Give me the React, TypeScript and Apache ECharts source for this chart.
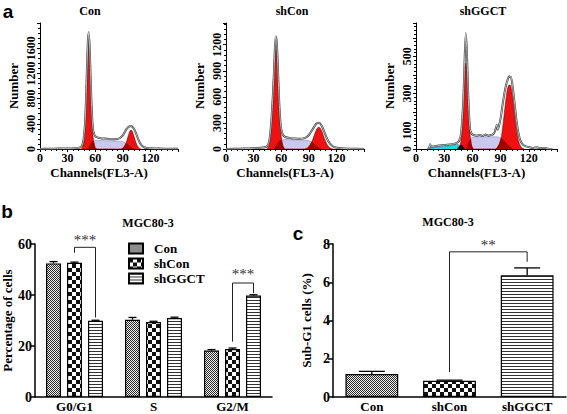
import React, { useEffect, useRef } from "react";
import * as echarts from "echarts";

const SERIF = "'Liberation Serif', 'DejaVu Serif', serif";
const SANS = "'Liberation Sans', Arial, sans-serif";

// ---------- Panel a: DNA histograms (channel, count) ----------
const conRaw = [[0,0],[10,4],[20,6],[30,8],[38,12],[42,18],[45,40],[47,120],[49,420],[50,780],[51,1250],[52,1700],[53,1852],[54,1600],[55,1150],[56,700],[57,420],[58,280],[60,205],[62,185],[66,172],[70,165],[75,158],[80,155],[84,160],[87,175],[90,215],[92,265],[94,315],[96,350],[98,362],[99,365],[100,358],[102,325],[104,265],[106,185],[108,115],[110,65],[113,28],[118,12],[125,8],[135,5],[150,2]];
const conG1 = [[44,0],[46,15],[48,150],[49,380],[50,690],[51,1110],[52,1480],[53,1624],[54,1480],[55,1110],[56,690],[57,380],[58,150],[60,15],[62,0]];
const conS = [[52,0],[54,50],[56,100],[58,125],[60,135],[65,135],[70,132],[75,130],[80,128],[85,125],[88,122],[91,110],[94,85],[97,50],[100,15],[102,0]];
const conG2 = [[88,0],[90,13],[92,45],[94,114],[96,212],[98,289],[99,300],[100,289],[102,212],[104,114],[106,45],[108,13],[110,0]];
const conOverlap = [[51,0],[53,25],[55,75],[57,115],[58,125],[59,70],[60,15],[61,0],[89,0],[90,13],[92,45],[93,75],[94,85],[96,62],[98,38],[100,15],[102,0]];

const shconRaw = [[0,0],[15,3],[25,6],[32,10],[38,14],[42,20],[45,35],[47,90],[49,280],[51,620],[52,850],[53,1120],[54,1296],[55,1250],[56,1050],[57,760],[58,500],[59,330],[60,230],[62,160],[65,135],[70,125],[75,120],[80,118],[85,125],[88,140],[91,175],[94,225],[97,275],[99,298],[101,303],[103,285],[105,245],[107,195],[109,140],[111,95],[114,50],[118,20],[125,8],[135,4],[150,1]];
const shconG1 = [[44,0],[46,20],[47,50],[48,120],[49,240],[50,420],[51,650],[52,900],[53,1090],[54,1160],[55,1130],[56,970],[57,740],[58,490],[59,290],[60,150],[61,70],[62,30],[64,0]];
const shconS = [[52,0],[55,40],[58,90],[61,105],[65,108],[70,106],[75,104],[80,104],[85,104],[88,100],[91,92],[94,72],[97,45],[100,20],[103,0]];
const shconG2 = [[86,0],[88,10],[90,25],[92,55],[94,100],[96,160],[98,215],[100,248],[101,250],[102,245],[104,210],[106,150],[108,95],[110,50],[112,22],[114,8],[116,0]];
const shconOverlap = [[52,0],[55,40],[58,90],[60,100],[61,70],[62,30],[64,0],[88,0],[90,25],[92,55],[93,75],[94,72],[97,45],[100,20],[103,0]];

const shggctRaw = [[12,0],[14,4],[15,26],[16,12],[18,14],[21,16],[24,18],[27,20],[30,21],[33,23],[36,24],[39,27],[42,30],[44,35],[46,45],[48,85],[50,230],[51,360],[52,520],[53,625],[54,540],[55,380],[56,230],[57,140],[58,95],[60,78],[62,74],[65,72],[68,76],[71,70],[74,78],[77,72],[80,76],[82,80],[84,95],[85,115],[86,130],[87,105],[88,120],[90,165],[92,235],[94,300],[96,350],[98,382],[99,392],[100,388],[101,390],[103,330],[105,240],[107,150],[109,85],[111,45],[114,22],[117,14],[120,10],[124,6],[128,9],[132,5],[136,6],[140,2],[145,0]];
const shggctG1 = [[45,0],[47,20],[48,53],[49,116],[50,212],[51,327],[52,425],[53,463],[54,425],[55,327],[56,212],[57,116],[58,53],[59,20],[61,0]];
const shggctS = [[52,0],[55,25],[58,55],[61,64],[66,66],[72,66],[78,66],[84,66],[88,64],[91,58],[94,42],[97,25],[100,10],[103,0]];
const shggctG2 = [[85,0],[87,12],[89,30],[91,72],[93,150],[95,240],[97,315],[99,345],[100,345],[101,335],[103,270],[105,180],[107,100],[109,45],[111,18],[113,5],[115,0]];
const shggctOverlap = [[54,0],[55,25],[57,45],[58,53],[59,20],[61,0],[85,0],[87,12],[89,30],[91,58],[93,47],[95,35],[97,25],[100,10],[103,0]];
const shggctDebris = [[14,0],[16,6],[20,9],[25,12],[30,14],[35,17],[40,21],[43,24],[46,22],[48,8],[50,0]];
const shggctDark = [[44,0],[46,14],[48,22],[50,12],[52,0]];

const histTitles = ["Con", "shCon", "shGGCT"];
const histYMax = [2000, 1450, 680];
const histYStep = [400, 300, 100];
const histYHidden = [[], [], [200, 400, 600]];
const channelTicks = { min: 0, max: 150, step: 30 };

// ---------- Panel b: cell cycle distribution ----------
const phases = ["G0/G1", "S", "G2/M"];
const groups = ["Con", "shCon", "shGGCT"];
const conPct = [52.4, 30.3, 18.2];
const shconPct = [52.6, 29.4, 18.8];
const shggctPct = [29.9, 31.0, 39.8];
const conPctErr = [0.7, 0.9, 0.4];
const shconPctErr = [0.3, 0.3, 0.4];
const shggctPctErr = [0.2, 0.3, 0.3];
// [leftCat, leftGroup, rightCat, rightGroup, top, leftEnd, rightEnd, textY]
const bBrackets = [
  [0, 1, 0, 2, 58.7, 56.6, 31.2, 61.4],
  [2, 1, 2, 2, 44.7, 21.7, 40.7, 48.2],
];
const bStars = ["***", "***"];

// ---------- Panel c: sub-G1 ----------
const subG1 = [1.2, 0.85, 6.37];
const subG1Err = [0.14, 0.03, 0.38];
const cBrackets = [[1, 1, 2, 1, 7.59, 1.31, 7.07, 7.95]];
const cStars = ["**"];

function makePattern(kind: string): string {
  const c = document.createElement("canvas");
  if (kind === "fine") {
    c.width = 2; c.height = 2;
    const g = c.getContext("2d")!;
    g.fillStyle = "#f0f0f0"; g.fillRect(0, 0, 2, 2);
    g.fillStyle = "#2a2a2a"; g.fillRect(0, 0, 1, 1); g.fillRect(1, 1, 1, 1);
  } else if (kind === "checker") {
    c.width = 8; c.height = 8;
    const g = c.getContext("2d")!;
    g.fillStyle = "#ffffff"; g.fillRect(0, 0, 8, 8);
    g.fillStyle = "#111111"; g.fillRect(0, 0, 4, 4); g.fillRect(4, 4, 4, 4);
  } else {
    c.width = 4; c.height = 3;
    const g = c.getContext("2d")!;
    g.fillStyle = "#ffffff"; g.fillRect(0, 0, 4, 3);
    g.fillStyle = "#333333"; g.fillRect(0, 0, 4, 1);
  }
  return c.toDataURL();
}

export default function App() {
  const ref = useRef<HTMLDivElement>(null);
  useEffect(() => {
    if (!ref.current) return;
    const chart = echarts.init(ref.current, null, { renderer: "svg" });
    const pats = [makePattern("fine"), makePattern("checker"), makePattern("stripe")].map((img) => ({ image: img, repeat: "repeat" }));
    const BAR_STEP = 21;

    const histGrids = [
      { left: 40, top: 23, width: 138, height: 126 },
      { left: 226, top: 23, width: 138, height: 126 },
      { left: 416, top: 23, width: 141, height: 126 },
    ];
    const grids = [
      ...histGrids,
      { left: 35, top: 244, width: 237, height: 153 },
      { left: 333, top: 244, width: 233, height: 153 },
    ];

    const blackLine = { lineStyle: { color: "#000", width: 1 } };
    const xAxes: any[] = histGrids.map((_, i) => ({
      type: "value", gridIndex: i, min: channelTicks.min, max: channelTicks.max, interval: channelTicks.step,
      splitLine: { show: false },
      axisLine: blackLine,
      axisTick: { length: 3, lineStyle: { color: "#000" } },
      minorTick: { show: true, splitNumber: 5, length: 2, lineStyle: { color: "#000" } },
      axisLabel: { color: "#000", fontFamily: SERIF, fontWeight: "bold", fontSize: 12, margin: 3, showMaxLabel: false },
      name: "Channels(FL3-A)", nameLocation: "middle", nameGap: 17,
      nameTextStyle: { color: "#000", fontFamily: SERIF, fontWeight: "bold", fontSize: 13, padding: [0, 20, 0, 0] },
    }));
    const yAxes: any[] = histGrids.map((_, i) => ({
      type: "value", gridIndex: i, min: 0, max: histYMax[i], interval: histYStep[i],
      splitLine: { show: false },
      axisLine: { show: true, lineStyle: { color: "#000", width: 1 } },
      axisTick: { show: true, length: 3, lineStyle: { color: "#000" } },
      minorTick: { show: true, splitNumber: 5, length: 2, lineStyle: { color: "#000" } },
      axisLabel: {
        color: "#000", fontFamily: SERIF, fontWeight: "bold", fontSize: 12, rotate: 90, margin: 3, showMaxLabel: false,
        formatter: (v: number) => (histYHidden[i].includes(v) ? "" : String(v)),
      },
      name: "Number", nameLocation: "middle", nameGap: 20,
      nameTextStyle: { color: "#000", fontFamily: SERIF, fontWeight: "bold", fontSize: 13 },
    }));

    const thick = { lineStyle: { color: "#000", width: 1.5 } };
    const barLabel = { color: "#000", fontFamily: SERIF, fontWeight: "bold", fontSize: 13 };
    xAxes.push(
      { type: "category", gridIndex: 3, data: phases, axisLine: thick,
        axisTick: { alignWithLabel: true, length: 4, lineStyle: { color: "#000", width: 1.5 } },
        axisLabel: { ...barLabel, margin: 3 } },
      { type: "category", gridIndex: 4, data: groups, axisLine: thick,
        axisTick: { alignWithLabel: true, length: 4, lineStyle: { color: "#000", width: 1.5 } },
        axisLabel: { ...barLabel, margin: 3 } },
    );
    yAxes.push(
      { type: "value", gridIndex: 3, min: 0, max: 60, interval: 20, splitLine: { show: false },
        axisLine: { show: true, ...thick }, axisTick: { show: true, length: 5, lineStyle: { color: "#000", width: 1.5 } },
        axisLabel: { ...barLabel, fontSize: 14, margin: 3 },
        name: "Percentage of cells", nameLocation: "middle", nameGap: 20,
        nameTextStyle: { ...barLabel } },
      { type: "value", gridIndex: 4, min: 0, max: 8, interval: 2, splitLine: { show: false },
        axisLine: { show: true, ...thick }, axisTick: { show: true, length: 5, lineStyle: { color: "#000", width: 1.5 } },
        axisLabel: { ...barLabel, fontSize: 14, margin: 3 },
        name: "Sub-G1 cells (%)", nameLocation: "middle", nameGap: 20,
        nameTextStyle: { ...barLabel } },
    );

    const area = (data: number[][], idx: number, color: string, edge: string, z: number) => ({
      type: "line", data, xAxisIndex: idx, yAxisIndex: idx, symbol: "none", smooth: 0.3, silent: true,
      lineStyle: { color: edge, width: 0.6 }, areaStyle: { color, opacity: 1 }, z,
    });
    const rawLine = (data: number[][], idx: number) => [
      { type: "line", data, xAxisIndex: idx, yAxisIndex: idx, symbol: "none", smooth: 0.2, silent: true,
        lineStyle: { color: "#3a3a3a", width: 2.0 }, z: 10 },
      { type: "line", data, xAxisIndex: idx, yAxisIndex: idx, symbol: "none", smooth: 0.2, silent: true,
        lineStyle: { color: "#f2f2f2", width: 0.7 }, z: 11 },
    ];
    const RED = "#ee1111", DARKRED = "#a00000", LAV = "#c9c9f0", LAVEDGE = "#8c8cc8";
    const histSeries: any[] = [
      area(conS, 0, LAV, LAVEDGE, 2), area(conG1, 0, RED, "#800", 3), area(conG2, 0, RED, "#800", 3), area(conOverlap, 0, DARKRED, DARKRED, 4), ...rawLine(conRaw, 0),
      area(shconS, 1, LAV, LAVEDGE, 2), area(shconG1, 1, RED, "#800", 3), area(shconG2, 1, RED, "#800", 3), area(shconOverlap, 1, DARKRED, DARKRED, 4), ...rawLine(shconRaw, 1),
      area(shggctS, 2, LAV, LAVEDGE, 2), area(shggctDebris, 2, "#22d6dc", "#119aa0", 3), area(shggctDark, 2, "#111", "#111", 4),
      area(shggctG1, 2, RED, "#800", 3), area(shggctG2, 2, RED, "#800", 3), area(shggctOverlap, 2, DARKRED, DARKRED, 4), ...rawLine(shggctRaw, 2),
    ];

    const pctVals = [conPct, shconPct, shggctPct];
    const pctErrs = [conPctErr, shconPctErr, shggctPctErr];
    const barSeries: any[] = groups.map((g, k) => ({
      type: "bar", name: g, xAxisIndex: 3, yAxisIndex: 3, data: pctVals[k], barWidth: 15, barGap: "40%",
      itemStyle: { color: pats[k], borderColor: "#000", borderWidth: 1.2 }, z: 2,
    }));

    const errRender = (cap: number) => (params: any, api: any) => {
      const off = (api.value(3) - 1) * BAR_STEP;
      const base = api.coord([api.value(0), api.value(1)]);
      const top = api.coord([api.value(0), api.value(1) + api.value(2)]);
      const x = base[0] + off;
      const st = { stroke: "#000", lineWidth: 1.3 };
      return { type: "group", children: [
        { type: "line", shape: { x1: x, y1: base[1], x2: x, y2: top[1] }, style: st },
        { type: "line", shape: { x1: x - cap / 2, y1: top[1], x2: x + cap / 2, y2: top[1] }, style: st },
      ] };
    };
    const bErrData: number[][] = [];
    pctVals.forEach((vals, k) => vals.forEach((v, i) => bErrData.push([i, v, pctErrs[k][i], k])));
    const cErrData = subG1.map((v, i) => [i, v, subG1Err[i], 1]);

    const bracketRender = (labels: string[], fs: number) => (params: any, api: any) => {
      const yTop = api.coord([0, api.value(4)])[1];
      const yL = api.coord([0, api.value(5)])[1];
      const yR = api.coord([0, api.value(6)])[1];
      const yT = api.coord([0, api.value(7)])[1];
      const xL = api.coord([api.value(0), 0])[0] + (api.value(1) - 1) * BAR_STEP;
      const xR = api.coord([api.value(2), 0])[0] + (api.value(3) - 1) * BAR_STEP;
      return { type: "group", children: [
        { type: "polyline", shape: { points: [[xL, yL], [xL, yTop], [xR, yTop], [xR, yR]] }, style: { stroke: "#222", lineWidth: 1, fill: null } },
        { type: "text", x: (xL + xR) / 2, y: yT, style: { text: labels[params.dataIndex], fill: "#333", font: `${fs}px ${SERIF}`, textAlign: "center", textVerticalAlign: "middle" } },
      ] };
    };

    const customSeries: any[] = [
      { type: "custom", xAxisIndex: 3, yAxisIndex: 3, data: bErrData, renderItem: errRender(8), encode: { x: 0, y: 1 }, z: 5, silent: true },
      { type: "custom", xAxisIndex: 4, yAxisIndex: 4, data: cErrData, renderItem: errRender(26), encode: { x: 0, y: 1 }, z: 5, silent: true },
      { type: "custom", xAxisIndex: 3, yAxisIndex: 3, data: bBrackets, renderItem: bracketRender(bStars, 15), encode: { x: 0, y: 4 }, z: 6, silent: true, clip: false },
      { type: "custom", xAxisIndex: 4, yAxisIndex: 4, data: cBrackets, renderItem: bracketRender(cStars, 15), encode: { x: 0, y: 4 }, z: 6, silent: true, clip: false },
    ];

    const cBar = {
      type: "bar", name: "Sub-G1", xAxisIndex: 4, yAxisIndex: 4, barWidth: "68%",
      data: subG1.map((v, i) => ({ value: v, itemStyle: { color: pats[i] } })),
      itemStyle: { borderColor: "#000", borderWidth: 1.2 }, z: 2,
    };

    const txt = (text: string, x: number, y: number, font: string) => ({
      type: "text", x, y, silent: true,
      style: { text, font, fill: "#000", textAlign: "center", textVerticalAlign: "middle" },
    });

    chart.setOption({
      animation: false,
      backgroundColor: "#fff",
      grid: grids,
      xAxis: xAxes,
      yAxis: yAxes,
      legend: {
        data: groups, orient: "vertical", left: 128, top: 242, padding: 0, itemWidth: 14, itemHeight: 10, itemGap: 2,
        icon: "rect", selectedMode: false,
        textStyle: { color: "#000", fontFamily: SERIF, fontWeight: "bold", fontSize: 13, padding: [0, 0, 0, 6] },
      },
      graphic: [
        txt("a", 8, 11, `bold 19px ${SANS}`),
        txt("b", 7, 211, `bold 19px ${SANS}`),
        txt("c", 298, 233, `bold 19px ${SANS}`),
        txt(histTitles[0], 90, 11, `bold 12px ${SERIF}`),
        txt(histTitles[1], 292, 11, `bold 12px ${SERIF}`),
        txt(histTitles[2], 483, 11, `bold 12px ${SERIF}`),
        txt("MGC80-3", 148, 223, `bold 12px ${SERIF}`),
        txt("MGC80-3", 448, 222, `bold 12px ${SERIF}`),
      ],
      series: [...histSeries, ...barSeries, cBar, ...customSeries],
    });
    return () => chart.dispose();
  }, []);
  return <div ref={ref} style={{ position: "absolute", left: 0, top: 0, width: 567, height: 414, background: "#fff" }} />;
}
